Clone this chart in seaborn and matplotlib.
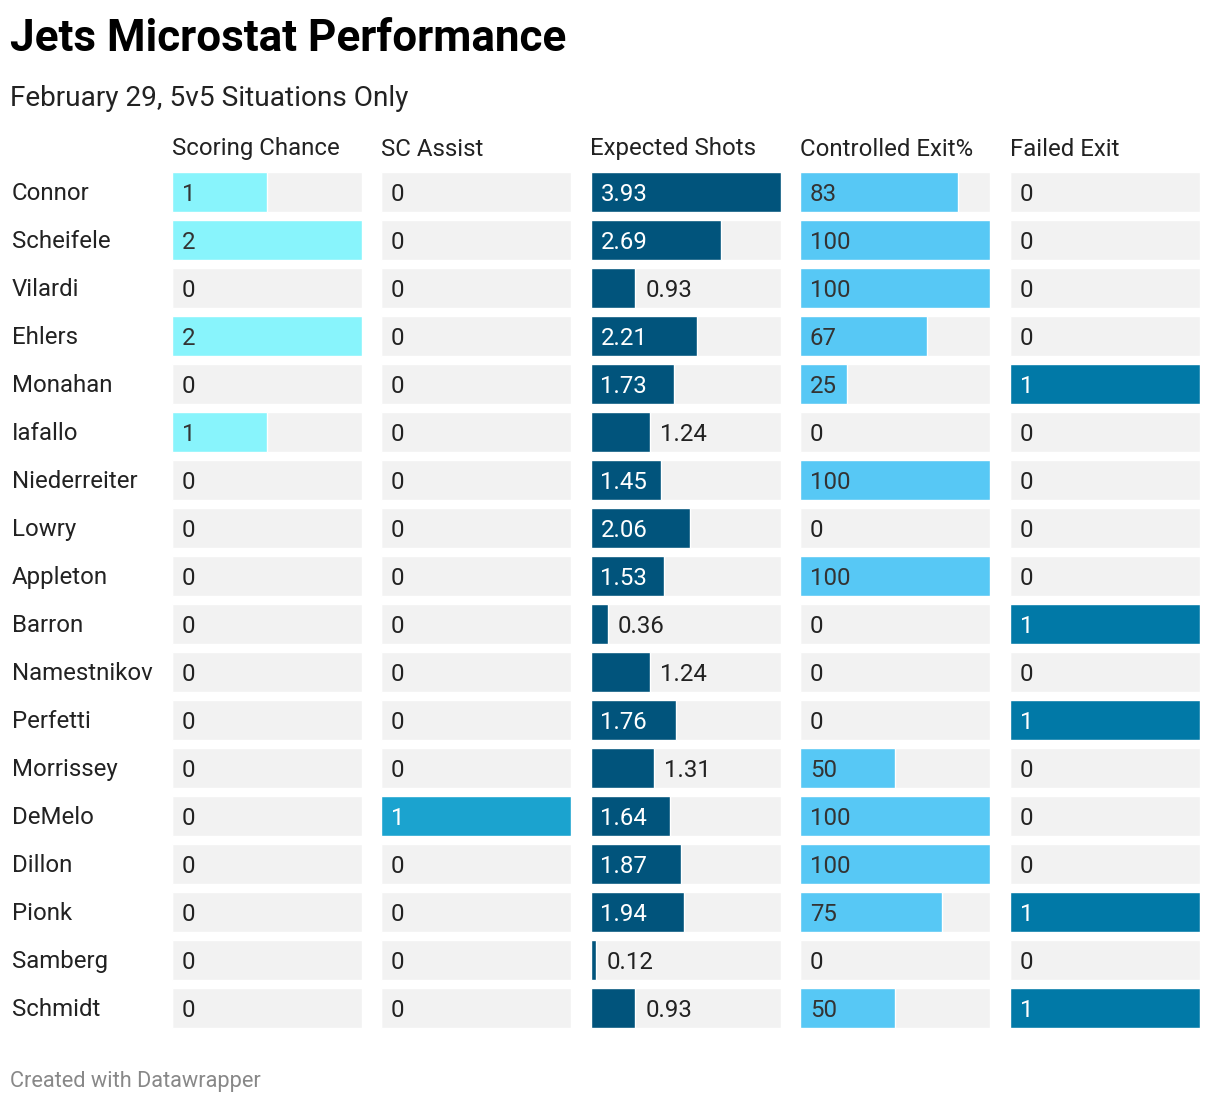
import pandas as pd
import seaborn as sns
import matplotlib.pyplot as plt

players = ['Connor', 'Scheifele', 'Vilardi', 'Ehlers', 'Monahan', 'Iafallo',
           'Niederreiter', 'Lowry', 'Appleton', 'Barron', 'Namestnikov',
           'Perfetti', 'Morrissey', 'DeMelo', 'Dillon', 'Pionk', 'Samberg',
           'Schmidt']
scoring_chance = [1, 2, 0, 2, 0, 1, 0, 0, 0, 0, 0, 0, 0, 0, 0, 0, 0, 0]
sc_assist = [0, 0, 0, 0, 0, 0, 0, 0, 0, 0, 0, 0, 0, 1, 0, 0, 0, 0]
expected_shots = [3.93, 2.69, 0.93, 2.21, 1.73, 1.24, 1.45, 2.06, 1.53, 0.36,
                  1.24, 1.76, 1.31, 1.64, 1.87, 1.94, 0.12, 0.93]
controlled_exit = [83, 100, 100, 67, 25, 0, 100, 0, 100, 0, 0, 0, 50, 100,
                   100, 75, 0, 50]
failed_exit = [0, 0, 0, 0, 1, 0, 0, 0, 0, 1, 0, 1, 0, 0, 0, 1, 0, 1]

headers = ['Scoring Chance', 'SC Assist', 'Expected Shots',
           'Controlled Exit%', 'Failed Exit']
columns = [scoring_chance, sc_assist, expected_shots, controlled_exit, failed_exit]
formats = ['{:.0f}', '{:.0f}', '{:.2f}', '{:.0f}', '{:.0f}']
colors = ['#88f4fc', '#1ba3cf', '#01547c', '#57c8f5', '#0179a7']
text_on_bar = ['#333333', 'white', 'white', '#333333', 'white']

sns.set_theme(style='white')
plt.rcParams['font.family'] = ['Roboto', 'DejaVu Sans']

W, H = 1220, 1104
fig = plt.figure(figsize=(W / 100, H / 100), dpi=100)

top_px, bottom_px = 168, 1032
col_left0, col_step, col_w = 171.5, 209.5, 190
PT = 0.72  # points per pixel at 100 dpi
FS = 17.3

for k, (vals, head) in enumerate(zip(columns, headers)):
    left = col_left0 + k * col_step
    ax = fig.add_axes([left / W, 1 - bottom_px / H, col_w / W, (bottom_px - top_px) / H])
    vmax = max(vals)
    df = pd.DataFrame({'player': players, 'value': vals, 'full': [vmax] * len(vals)})
    sns.barplot(data=df, x='full', y='player', orient='h', color='#f2f2f2',
                width=40 / 48, saturation=1, ax=ax)
    sns.barplot(data=df, x='value', y='player', orient='h', color=colors[k],
                width=40 / 48, saturation=1, ax=ax)
    ax.set_xlim(0, vmax)
    ax.set_ylim(len(players) - 0.5, -0.5)
    ax.axis('off')

    ax.annotate(head, xy=(0, 1), xycoords='axes fraction', xytext=(0, 19 * PT),
                textcoords='offset points', va='center', ha='left',
                fontsize=FS, color='#222222')

    for i, v in enumerate(vals):
        label = formats[k].format(v)
        bar_px = v / vmax * col_w
        txt_px = sum(6 if c == '.' else 13.3 for c in label)
        if v > 0 and txt_px + 20 < bar_px:
            x, color = 0, text_on_bar[k]
        else:
            x, color = v, '#222222'
        ax.annotate(label, xy=(x, i), xytext=(10 * PT, 0), textcoords='offset points',
                    va='center_baseline', ha='left', fontsize=FS, color=color)

    if k == 0:
        for i, name in enumerate(players):
            ax.annotate(name, xy=(0, i), xycoords=('axes fraction', 'data'),
                        xytext=(-159.5 * PT, 1 * PT), textcoords='offset points',
                        va='center_baseline', ha='left', fontsize=FS, color='#222222')

fig.text(10 / W, 1 - 39 / H, 'Jets Microstat Performance', fontsize=31.7,
         fontweight='bold', color='black', va='center', ha='left')
fig.text(10 / W, 1 - 99 / H, 'February 29, 5v5 Situations Only', fontsize=20.2,
         color='#222222', va='center', ha='left')
fig.text(10 / W, 1 - 1081 / H, 'Created with Datawrapper', fontsize=15.7,
         color='#888888', va='center', ha='left')

fig.savefig('out.png', dpi=100, facecolor='white')
